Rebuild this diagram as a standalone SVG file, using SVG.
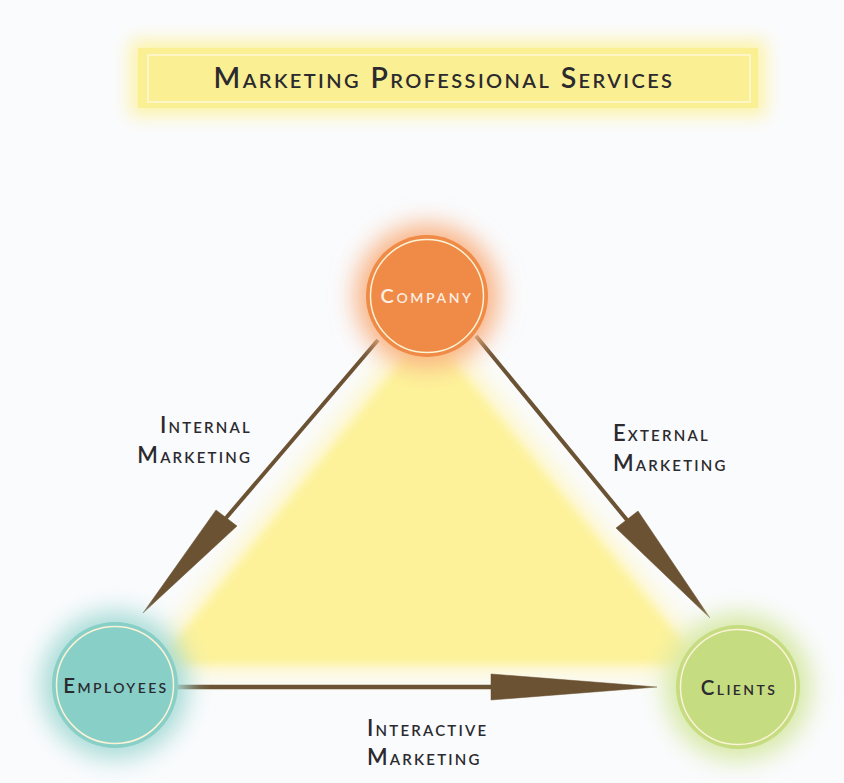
<svg xmlns="http://www.w3.org/2000/svg" width="844" height="783" viewBox="0 0 844 783">
<defs>
<filter id="blur8" x="-30%" y="-60%" width="160%" height="220%"><feGaussianBlur stdDeviation="9"/></filter>
<filter id="blur12" x="-50%" y="-50%" width="200%" height="200%"><feGaussianBlur stdDeviation="12"/></filter>
<filter id="blur4" x="-20%" y="-20%" width="140%" height="140%"><feGaussianBlur stdDeviation="4"/></filter>
<style>
.lbl{font-family:Lato,"Open Sans","Liberation Sans",sans-serif;font-variant:small-caps;font-weight:600;fill:#2b2a2e;letter-spacing:2.2px;font-size:22px}
.edge{fill:#6a5233;stroke:#6a5233}
.ring{fill:none;stroke:#fbf3d6;stroke-width:1.5}
</style>
</defs>
<rect width="844" height="783" fill="#fafbfd"/>
<g id="triangle">
<polygon points="427,310 140,672 716,672" fill="#fff6c0" filter="url(#blur12)"/>
<polygon points="427,330 158,664 700,664" fill="#fdf29a" filter="url(#blur4)"/>
</g>
<g id="title">
<rect x="130" y="40" width="636" height="76" fill="#fcf3a8" filter="url(#blur8)"/>
<rect x="138" y="48" width="620" height="60" fill="#fbef93"/>
<rect x="148" y="55" width="602" height="47" fill="none" stroke="#fff9d8" stroke-width="1.5"/>
<text x="444" y="88" text-anchor="middle" class="lbl" style="font-size:28.5px;letter-spacing:2.4px">Marketing Professional Services</text>
</g>
<g id="connectors">
<g id="internal">
<line x1="378" y1="340" x2="226" y2="518" class="edge" stroke-width="4"/>
<polygon points="216,510 237,526 143,613" class="edge" stroke-width="0.5"/>
</g>
<g id="external">
<line x1="476" y1="336" x2="627" y2="520" class="edge" stroke-width="4"/>
<polygon points="616,528 638,511 710,618" class="edge" stroke-width="0.5"/>
</g>
<g id="interactive">
<line x1="178" y1="687" x2="492" y2="687" class="edge" stroke-width="4.5"/>
<polygon points="491,674 491,700 657,687" class="edge" stroke-width="0.5"/>
</g>
</g>
<g id="company">
<circle cx="427" cy="296" r="72" fill="#f9b485" filter="url(#blur12)"/>
<circle cx="427" cy="296" r="61" fill="#f08a47"/>
<circle cx="427" cy="296" r="56.5" class="ring" stroke="#fbd3b5"/>
<text x="427" y="303" text-anchor="middle" class="lbl" style="fill:#fdeee2;font-size:20px;letter-spacing:2.6px">Company</text>
</g>
<g id="employees">
<circle cx="115" cy="685" r="74" fill="#a8dcd7" filter="url(#blur12)"/>
<circle cx="115" cy="685" r="63" fill="#88cfc8"/>
<circle cx="115" cy="685" r="58.5" class="ring"/>
<text x="116" y="693" text-anchor="middle" class="lbl" style="font-size:20.5px;letter-spacing:2.4px">Employees</text>
</g>
<g id="clients">
<circle cx="738" cy="687" r="74" fill="#d8e9a8" filter="url(#blur12)"/>
<circle cx="738" cy="687" r="62" fill="#c5dc81"/>
<circle cx="738" cy="687" r="57.5" class="ring"/>
<text x="739" y="695" text-anchor="middle" class="lbl" style="font-size:20.5px;letter-spacing:2.4px">Clients</text>
</g>
<g id="labels">
<text x="252" y="433" text-anchor="end" class="lbl">Internal</text>
<text x="252" y="463" text-anchor="end" class="lbl">Marketing</text>
<text x="613" y="441" class="lbl">External</text>
<text x="613" y="471" class="lbl">Marketing</text>
<text x="367" y="736" class="lbl">Interactive</text>
<text x="367" y="765" class="lbl">Marketing</text>
</g>
</svg>
